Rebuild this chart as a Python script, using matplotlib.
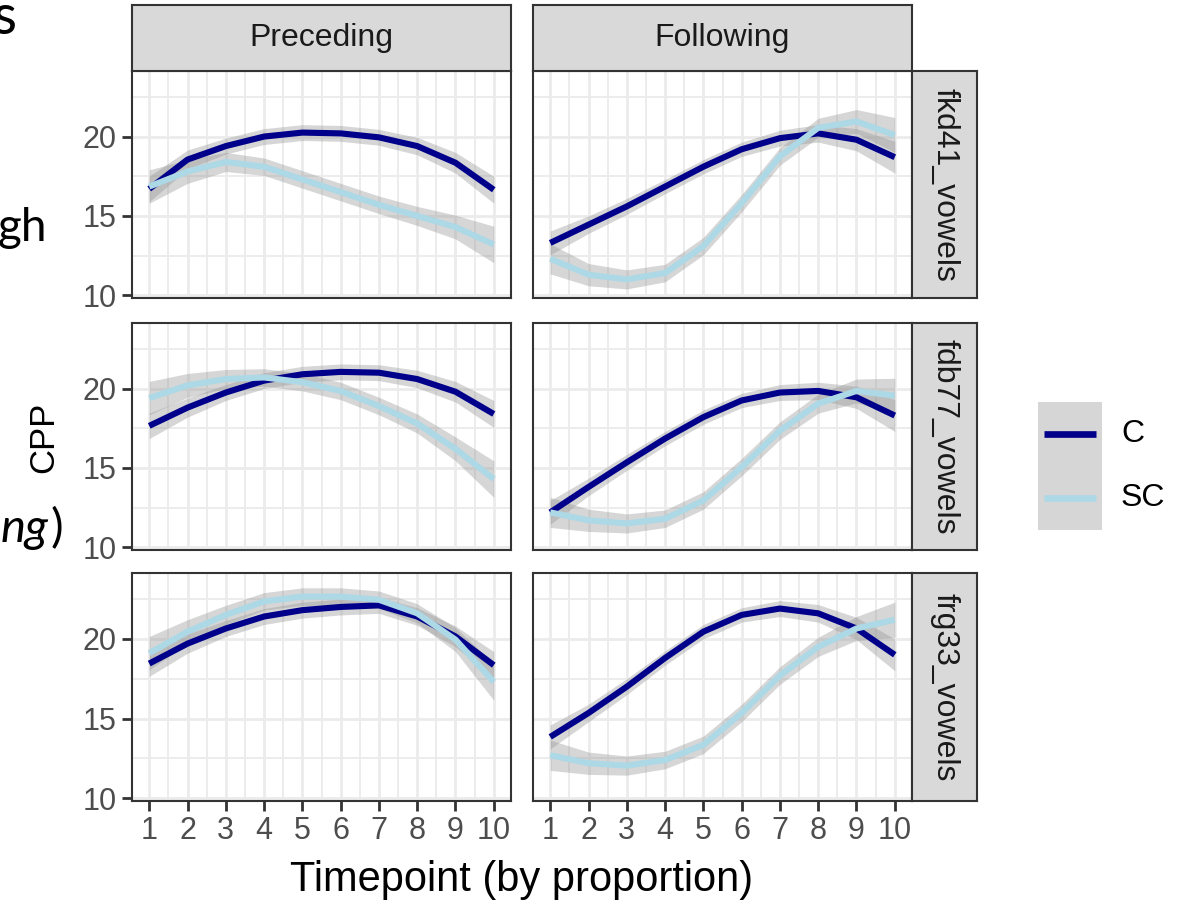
import matplotlib.pyplot as plt
from matplotlib.patches import Rectangle
from matplotlib.lines import Line2D

plt.rcParams['font.family'] = ['Liberation Sans', 'DejaVu Sans']

# ==================
# data (CPP at each timepoint)
# ==================
timepoints = [1, 2, 3, 4, 5, 6, 7, 8, 9, 10]
positions = ["Preceding", "Following"]
speakers = ["fkd41_vowels", "fdb77_vowels", "frg33_vowels"]
groups = ["C", "SC"]

fkd41_prec_C = [16.7, 18.55, 19.4, 20.0, 20.25, 20.2, 19.95, 19.4, 18.35, 16.65]
fkd41_prec_SC = [16.85, 17.8, 18.4, 18.1, 17.3, 16.5, 15.7, 15.0, 14.3, 13.2]
fkd41_foll_C = [13.3, 14.45, 15.6, 16.85, 18.1, 19.2, 19.9, 20.2, 19.8, 18.7]
fkd41_foll_SC = [12.3, 11.3, 11.0, 11.4, 13.1, 15.8, 18.75, 20.55, 20.95, 20.1]

fdb77_prec_C = [17.65, 18.8, 19.75, 20.5, 20.9, 21.05, 21.0, 20.6, 19.8, 18.4]
fdb77_prec_SC = [19.4, 20.2, 20.6, 20.7, 20.4, 19.85, 18.9, 17.8, 16.2, 14.3]
fdb77_foll_C = [12.2, 13.8, 15.35, 16.85, 18.2, 19.25, 19.75, 19.85, 19.45, 18.3]
fdb77_foll_SC = [12.2, 11.7, 11.5, 11.8, 12.95, 15.05, 17.35, 19.05, 19.85, 19.55]

frg33_prec_C = [18.45, 19.7, 20.65, 21.4, 21.8, 22.0, 22.1, 21.4, 20.15, 18.35]
frg33_prec_SC = [19.1, 20.45, 21.5, 22.35, 22.65, 22.65, 22.45, 21.6, 19.95, 17.3]
frg33_foll_C = [13.85, 15.35, 17.0, 18.8, 20.45, 21.5, 21.9, 21.6, 20.65, 19.0]
frg33_foll_SC = [12.7, 12.2, 12.05, 12.4, 13.35, 15.35, 17.7, 19.5, 20.65, 21.2]

# half-width of the confidence ribbons
band_C_prec = [0.8, 0.6, 0.5, 0.5, 0.5, 0.5, 0.5, 0.55, 0.65, 0.85]
band_SC_prec = [1.05, 0.75, 0.6, 0.55, 0.55, 0.55, 0.55, 0.6, 0.75, 1.15]
band_C_foll = [0.75, 0.55, 0.5, 0.45, 0.45, 0.45, 0.5, 0.55, 0.7, 1.0]
band_SC_foll = [0.95, 0.7, 0.6, 0.55, 0.55, 0.55, 0.55, 0.6, 0.75, 1.1]

y_ticks = [10, 15, 20]
y_minor = [12.5, 17.5, 22.5]
x_minor = [1.5, 2.5, 3.5, 4.5, 5.5, 6.5, 7.5, 8.5, 9.5]

cpp = {
    ("fkd41_vowels", "Preceding"): (fkd41_prec_C, fkd41_prec_SC),
    ("fkd41_vowels", "Following"): (fkd41_foll_C, fkd41_foll_SC),
    ("fdb77_vowels", "Preceding"): (fdb77_prec_C, fdb77_prec_SC),
    ("fdb77_vowels", "Following"): (fdb77_foll_C, fdb77_foll_SC),
    ("frg33_vowels", "Preceding"): (frg33_prec_C, frg33_prec_SC),
    ("frg33_vowels", "Following"): (frg33_foll_C, frg33_foll_SC),
}
bands = {
    "Preceding": (band_C_prec, band_SC_prec),
    "Following": (band_C_foll, band_SC_foll),
}
colors = {"C": "#00008B", "SC": "#ADD8E6"}

# ==================
# layout (pixel boxes)
# ==================
W, H = 1190, 902
fig = plt.figure(figsize=(W / 100, H / 100), dpi=100)


def box(x0, y0, x1, y1):
    return [x0 / W, 1 - y1 / H, (x1 - x0) / W, (y1 - y0) / H]


col_x = [(132, 511), (533, 912)]
row_y = [(71, 298), (323, 550), (573, 801)]
border = "#333333"

for r, spk in enumerate(speakers):
    for c, pos in enumerate(positions):
        x0, x1 = col_x[c]
        y0, y1 = row_y[r]
        ax = fig.add_axes(box(x0, y0, x1, y1))
        ax.set_axisbelow(True)
        ys = cpp[(spk, pos)]
        bs = bands[pos]
        for g, y, b in zip(groups, ys, bs):
            lo = [v - e for v, e in zip(y, b)]
            hi = [v + e for v, e in zip(y, b)]
            ax.fill_between(timepoints, lo, hi, color="#999999", alpha=0.4,
                            lw=0)
            ax.plot(timepoints, y, color=colors[g], lw=4.4,
                    solid_capstyle="butt", solid_joinstyle="round")
        ax.set_xlim(0.55, 10.45)
        ax.set_ylim(9.83, 24.13)
        ax.set_xticks(timepoints)
        ax.set_xticks(x_minor, minor=True)
        ax.set_yticks(y_ticks)
        ax.set_yticks(y_minor, minor=True)
        ax.grid(which="major", color="#EBEBEB", lw=2.0)
        ax.grid(which="minor", color="#EBEBEB", lw=1.3)
        for s in ax.spines.values():
            s.set_color(border)
            s.set_linewidth(1.5)
        ax.tick_params(which="major", length=7, width=2, color=border,
                       labelcolor="#4D4D4D", labelsize=22, pad=4)
        ax.tick_params(which="minor", length=0)
        if c != 0:
            ax.tick_params(axis="y", which="major", length=0,
                           labelleft=False)
        if r != len(speakers) - 1:
            ax.tick_params(axis="x", which="major", length=0,
                           labelbottom=False)

        # right strip
        if c == 1:
            sax = fig.add_axes(box(912, y0, 977, y1))
            sax.set_facecolor("#D9D9D9")
            sax.set_xticks([])
            sax.set_yticks([])
            for s in sax.spines.values():
                s.set_color(border)
                s.set_linewidth(1.5)
            sax.text(0.5, 0.5, spk, rotation=270, ha="center", va="center",
                     fontsize=23, color="#1A1A1A", transform=sax.transAxes)

# top strips
for c, pos in enumerate(positions):
    x0, x1 = col_x[c]
    sax = fig.add_axes(box(x0, 5, x1, 71))
    sax.set_facecolor("#D9D9D9")
    sax.set_xticks([])
    sax.set_yticks([])
    for s in sax.spines.values():
        s.set_color(border)
        s.set_linewidth(1.5)
    sax.text(0.5, 0.5, pos, ha="center", va="center", fontsize=23,
             color="#1A1A1A", transform=sax.transAxes)

# axis titles
fig.text(522 / W, 1 - 880 / H, "Timepoint (by proportion)", ha="center",
         va="center", fontsize=30, color="black")
fig.text(44 / W, 1 - 437 / H, "CPP", rotation=90, ha="center", va="center",
         fontsize=25, color="black")

# legend
lax = fig.add_axes(box(1038, 402, 1102, 530))
lax.set_xlim(0, 1)
lax.set_ylim(0, 1)
lax.axis("off")
lax.add_patch(Rectangle((0, 0), 1, 1, color="#D6D6D6", lw=0,
                        transform=lax.transAxes))
for g, yk in zip(groups, [0.75, 0.25]):
    lax.add_line(Line2D([0.09, 0.91], [yk, yk], color=colors[g], lw=4.8,
                        solid_capstyle="butt"))
    fig.text(1121 / W, 1 - (530 - 128 * yk) / H, g, ha="left", va="center",
             fontsize=23, color="black")

# slide text cut off at the left edge
fig.text(16 / W, 1 - 34 / H, "s", ha="right", va="baseline", fontsize=40,
         family=["Lato", "DejaVu Sans"])
fig.text(47 / W, 1 - 241 / H, "gh", ha="right", va="baseline", fontsize=33,
         family=["Lato", "DejaVu Sans"])
fig.text(48 / W, 1 - 542 / H, "ng", ha="right", va="baseline", fontsize=34,
         style="italic", family=["Lato", "DejaVu Sans"])
fig.text(63 / W, 1 - 542 / H, ")", ha="right", va="baseline", fontsize=34,
         family=["Lato", "DejaVu Sans"])

fig.savefig("out.png", dpi=100)
